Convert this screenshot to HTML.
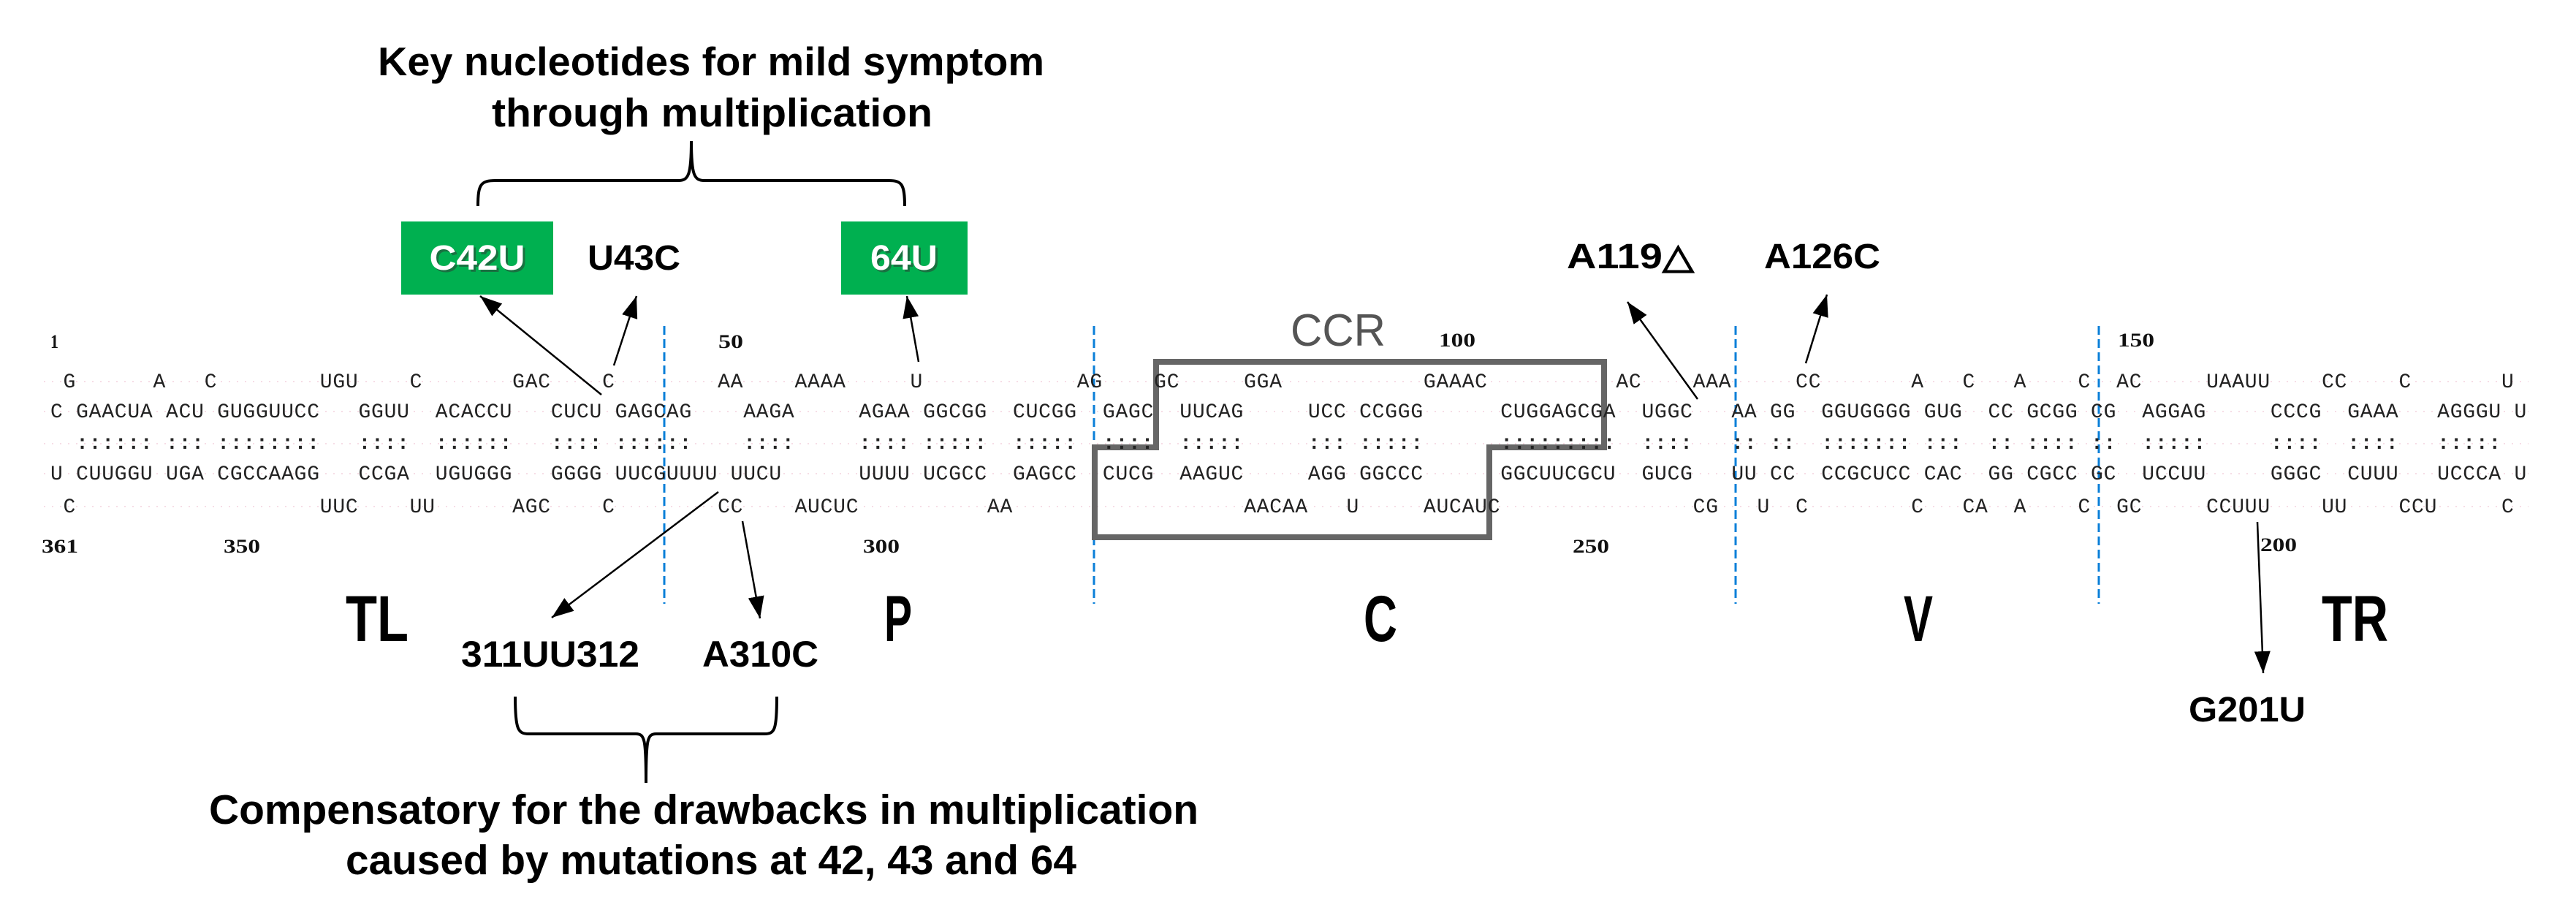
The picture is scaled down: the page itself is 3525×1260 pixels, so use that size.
<!DOCTYPE html>
<html><head><meta charset="utf-8">
<style>
html,body{margin:0;padding:0;background:#fff;}
#w{position:relative;width:3525px;height:1260px;overflow:hidden;background:#fff;}
.s{position:absolute;left:calc(69px + var(--c) * 17.56px);font-family:"Liberation Mono",monospace;font-size:28px;letter-spacing:0.76px;line-height:28px;color:#222;white-space:pre;}
.r1 .s{top:510px}.r2 .s{top:551px}.r3 .s{top:594px;font-weight:bold}.r4 .s{top:636px}.r5 .s{top:681px}
svg{position:absolute;left:0;top:0;}
</style></head><body><div id="w">
<svg width="3525" height="1260" viewBox="0 0 3525 1260">
<defs><marker id="ah" markerUnits="userSpaceOnUse" markerWidth="32" markerHeight="22" refX="30" refY="11" orient="auto"><path d="M0,0 L30,11 L0,22 z" fill="#000"/></marker></defs>
<g stroke="#f3cfdc" stroke-width="2" stroke-dasharray="2,9" opacity="0.7">
<line x1="60" y1="522" x2="3460" y2="522"/><line x1="60" y1="563" x2="3460" y2="563"/><line x1="60" y1="607" x2="3460" y2="607"/><line x1="60" y1="648" x2="3460" y2="648"/><line x1="60" y1="693" x2="3460" y2="693"/></g>
<g font-family="Liberation Sans, sans-serif" font-weight="bold" fill="#000" lengthAdjust="spacingAndGlyphs">
<text x="517" y="103" font-size="55" textLength="912" lengthAdjust="spacingAndGlyphs">Key nucleotides for mild symptom</text>
<text x="673" y="173" font-size="55" textLength="603" lengthAdjust="spacingAndGlyphs">through multiplication</text>
</g>
<path d="M654,282 C654,252 658,247 678,247 L928,247 C942,247 946,240 946,193 C946,240 950,247 964,247 L1216,247 C1234,247 1238,252 1238,282" fill="none" stroke="#000" stroke-width="4"/>
<rect x="549" y="303" width="208" height="100" fill="#00b050"/>
<rect x="1151" y="303" width="173" height="100" fill="#00b050"/>
<g font-family="Liberation Sans, sans-serif" font-weight="bold" font-size="48">
<text x="656" y="372" fill="#333" text-anchor="middle" textLength="131" lengthAdjust="spacingAndGlyphs" opacity="0.5">C42U</text>
<text x="653" y="369" fill="#fff" text-anchor="middle" textLength="131" lengthAdjust="spacingAndGlyphs">C42U</text>
<text x="1240" y="372" fill="#333" text-anchor="middle" textLength="92" lengthAdjust="spacingAndGlyphs" opacity="0.5">64U</text>
<text x="1237" y="369" fill="#fff" text-anchor="middle" textLength="92" lengthAdjust="spacingAndGlyphs">64U</text>
<text x="804" y="369" fill="#000" textLength="127" lengthAdjust="spacingAndGlyphs">U43C</text>
<text x="2144" y="367" fill="#000" textLength="174" lengthAdjust="spacingAndGlyphs">A119△</text>
<text x="2414" y="367" fill="#000" textLength="159" lengthAdjust="spacingAndGlyphs">A126C</text>
<text x="2995" y="987" fill="#000" textLength="160" lengthAdjust="spacingAndGlyphs">G201U</text>
<text x="631" y="912" font-size="50" fill="#000" textLength="244" lengthAdjust="spacingAndGlyphs">311UU312</text>
<text x="961" y="912" font-size="50" fill="#000" textLength="159" lengthAdjust="spacingAndGlyphs">A310C</text>
</g>
<g font-family="Liberation Sans, sans-serif" font-weight="bold" font-size="89" fill="#000">
<text x="473" y="877" textLength="86" lengthAdjust="spacingAndGlyphs">TL</text>
<text x="1210" y="877" textLength="38" lengthAdjust="spacingAndGlyphs">P</text>
<text x="1866" y="877" textLength="46" lengthAdjust="spacingAndGlyphs">C</text>
<text x="2605" y="877" textLength="40" lengthAdjust="spacingAndGlyphs">V</text>
<text x="3177" y="877" textLength="91" lengthAdjust="spacingAndGlyphs">TR</text>
</g>
<g font-family="Liberation Sans, sans-serif" font-weight="bold" font-size="57" fill="#000">
<text x="286" y="1127" textLength="1354" lengthAdjust="spacingAndGlyphs">Compensatory for the drawbacks in multiplication</text>
<text x="473" y="1196" textLength="1000" lengthAdjust="spacingAndGlyphs">caused by mutations at 42, 43 and 64</text>
</g>
<path d="M705,953 C705,999 709,1004 724,1004 L870,1004 C882,1004 884,1010 884,1071 C884,1010 886,1004 898,1004 L1046,1004 C1060,1004 1063,999 1063,953" fill="none" stroke="#000" stroke-width="4"/>
<text x="1766" y="473" font-family="Liberation Sans, sans-serif" font-size="62" fill="#555" textLength="130" lengthAdjust="spacingAndGlyphs">CCR</text>
<g font-family="Liberation Serif, serif" font-weight="bold" font-size="26" fill="#111">
<text x="69" y="476" textLength="11" lengthAdjust="spacingAndGlyphs">1</text>
<text x="983" y="476" textLength="34" lengthAdjust="spacingAndGlyphs">50</text>
<text x="1969" y="474" textLength="50" lengthAdjust="spacingAndGlyphs">100</text>
<text x="2898" y="474" textLength="50" lengthAdjust="spacingAndGlyphs">150</text>
<text x="57" y="756" textLength="50" lengthAdjust="spacingAndGlyphs">361</text>
<text x="306" y="756" textLength="50" lengthAdjust="spacingAndGlyphs">350</text>
<text x="1181" y="756" textLength="50" lengthAdjust="spacingAndGlyphs">300</text>
<text x="2152" y="756" textLength="50" lengthAdjust="spacingAndGlyphs">250</text>
<text x="3093" y="754" textLength="50" lengthAdjust="spacingAndGlyphs">200</text>
</g>
<g stroke="#0a7fd8" stroke-width="3" stroke-dasharray="12,6">
<line x1="909" y1="446" x2="909" y2="826"/><line x1="1497" y1="446" x2="1497" y2="826"/><line x1="2375" y1="446" x2="2375" y2="826"/><line x1="2872" y1="446" x2="2872" y2="826"/>
</g>
<path d="M1582,495 L2195,495 L2195,612 L2038,612 L2038,735 L1498,735 L1498,612 L1582,612 Z" fill="none" stroke="#666" stroke-width="8"/>
<g stroke="#000" stroke-width="2.5" marker-end="url(#ah)">
<line x1="823" y1="540" x2="657" y2="405"/>
<line x1="840" y1="500" x2="871" y2="405"/>
<line x1="1257" y1="495" x2="1241" y2="405"/>
<line x1="2323" y1="546" x2="2227" y2="413"/>
<line x1="2471" y1="497" x2="2500" y2="403"/>
<line x1="3089" y1="714" x2="3097" y2="921"/>
<line x1="983" y1="673" x2="755" y2="845"/>
<line x1="1016" y1="713" x2="1040" y2="846"/>
</g>
</svg>
<div class="r1">
<span class="s" style="--c:1">G</span><span class="s" style="--c:8">A</span><span class="s" style="--c:12">C</span><span class="s" style="--c:21">UGU</span><span class="s" style="--c:28">C</span><span class="s" style="--c:36">GAC</span><span class="s" style="--c:43">C</span><span class="s" style="--c:52">AA</span><span class="s" style="--c:58">AAAA</span><span class="s" style="--c:67">U</span><span class="s" style="--c:80">AG</span><span class="s" style="--c:86">GC</span><span class="s" style="--c:93">GGA</span><span class="s" style="--c:107">GAAAC</span><span class="s" style="--c:122">AC</span><span class="s" style="--c:128">AAA</span><span class="s" style="--c:136">CC</span><span class="s" style="--c:145">A</span><span class="s" style="--c:149">C</span><span class="s" style="--c:153">A</span><span class="s" style="--c:158">C</span><span class="s" style="--c:161">AC</span><span class="s" style="--c:168">UAAUU</span><span class="s" style="--c:177">CC</span><span class="s" style="--c:183">C</span><span class="s" style="--c:191">U</span>
</div>
<div class="r2">
<span class="s" style="--c:0">C</span><span class="s" style="--c:2">GAACUA</span><span class="s" style="--c:9">ACU</span><span class="s" style="--c:13">GUGGUUCC</span><span class="s" style="--c:24">GGUU</span><span class="s" style="--c:30">ACACCU</span><span class="s" style="--c:39">CUCU</span><span class="s" style="--c:44">GAGCAG</span><span class="s" style="--c:54">AAGA</span><span class="s" style="--c:63">AGAA</span><span class="s" style="--c:68">GGCGG</span><span class="s" style="--c:75">CUCGG</span><span class="s" style="--c:82">GAGC</span><span class="s" style="--c:88">UUCAG</span><span class="s" style="--c:98">UCC</span><span class="s" style="--c:102">CCGGG</span><span class="s" style="--c:113">CUGGAGCGA</span><span class="s" style="--c:124">UGGC</span><span class="s" style="--c:131">AA</span><span class="s" style="--c:134">GG</span><span class="s" style="--c:138">GGUGGGG</span><span class="s" style="--c:146">GUG</span><span class="s" style="--c:151">CC</span><span class="s" style="--c:154">GCGG</span><span class="s" style="--c:159">CG</span><span class="s" style="--c:163">AGGAG</span><span class="s" style="--c:173">CCCG</span><span class="s" style="--c:179">GAAA</span><span class="s" style="--c:186">AGGGU</span><span class="s" style="--c:192">U</span>
</div>
<div class="r3">
<span class="s" style="--c:2">::::::</span><span class="s" style="--c:9">:::</span><span class="s" style="--c:13">::::::::</span><span class="s" style="--c:24">::::</span><span class="s" style="--c:30">::::::</span><span class="s" style="--c:39">::::</span><span class="s" style="--c:44">::::::</span><span class="s" style="--c:54">::::</span><span class="s" style="--c:63">::::</span><span class="s" style="--c:68">:::::</span><span class="s" style="--c:75">:::::</span><span class="s" style="--c:82">::::</span><span class="s" style="--c:88">:::::</span><span class="s" style="--c:98">:::</span><span class="s" style="--c:102">:::::</span><span class="s" style="--c:113">:::::::::</span><span class="s" style="--c:124">::::</span><span class="s" style="--c:131">::</span><span class="s" style="--c:134">::</span><span class="s" style="--c:138">:::::::</span><span class="s" style="--c:146">:::</span><span class="s" style="--c:151">::</span><span class="s" style="--c:154">::::</span><span class="s" style="--c:159">::</span><span class="s" style="--c:163">:::::</span><span class="s" style="--c:173">::::</span><span class="s" style="--c:179">::::</span><span class="s" style="--c:186">:::::</span>
</div>
<div class="r4">
<span class="s" style="--c:0">U</span><span class="s" style="--c:2">CUUGGU</span><span class="s" style="--c:9">UGA</span><span class="s" style="--c:13">CGCCAAGG</span><span class="s" style="--c:24">CCGA</span><span class="s" style="--c:30">UGUGGG</span><span class="s" style="--c:39">GGGG</span><span class="s" style="--c:44">UUCGUUUU</span><span class="s" style="--c:53">UUCU</span><span class="s" style="--c:63">UUUU</span><span class="s" style="--c:68">UCGCC</span><span class="s" style="--c:75">GAGCC</span><span class="s" style="--c:82">CUCG</span><span class="s" style="--c:88">AAGUC</span><span class="s" style="--c:98">AGG</span><span class="s" style="--c:102">GGCCC</span><span class="s" style="--c:113">GGCUUCGCU</span><span class="s" style="--c:124">GUCG</span><span class="s" style="--c:131">UU</span><span class="s" style="--c:134">CC</span><span class="s" style="--c:138">CCGCUCC</span><span class="s" style="--c:146">CAC</span><span class="s" style="--c:151">GG</span><span class="s" style="--c:154">CGCC</span><span class="s" style="--c:159">GC</span><span class="s" style="--c:163">UCCUU</span><span class="s" style="--c:173">GGGC</span><span class="s" style="--c:179">CUUU</span><span class="s" style="--c:186">UCCCA</span><span class="s" style="--c:192">U</span>
</div>
<div class="r5">
<span class="s" style="--c:1">C</span><span class="s" style="--c:21">UUC</span><span class="s" style="--c:28">UU</span><span class="s" style="--c:36">AGC</span><span class="s" style="--c:43">C</span><span class="s" style="--c:52">CC</span><span class="s" style="--c:58">AUCUC</span><span class="s" style="--c:73">AA</span><span class="s" style="--c:93">AACAA</span><span class="s" style="--c:101">U</span><span class="s" style="--c:107">AUCAUC</span><span class="s" style="--c:128">CG</span><span class="s" style="--c:133">U</span><span class="s" style="--c:136">C</span><span class="s" style="--c:145">C</span><span class="s" style="--c:149">CA</span><span class="s" style="--c:153">A</span><span class="s" style="--c:158">C</span><span class="s" style="--c:161">GC</span><span class="s" style="--c:168">CCUUU</span><span class="s" style="--c:177">UU</span><span class="s" style="--c:183">CCU</span><span class="s" style="--c:191">C</span>
</div>
</div></body></html>
